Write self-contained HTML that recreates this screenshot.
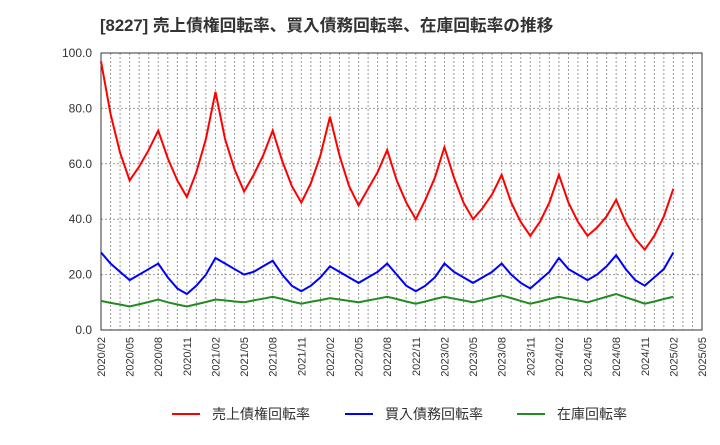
<!DOCTYPE html>
<html><head><meta charset="utf-8"><style>
body{margin:0;background:#fff;font-family:"Liberation Sans","Noto Sans CJK JP",sans-serif}
</style></head><body>
<svg id="c" width="720" height="440" xmlns="http://www.w3.org/2000/svg">
<text x="100" y="31" font-size="16.7" font-weight="bold" fill="#333">[8227]  売上債権回転率、買入債務回転率、在庫回転率の推移</text>
<g id="grid"></g><g id="axes"></g><g id="series"></g>
<g>
<line x1="172" y1="414" x2="200" y2="414" stroke="#f00" stroke-width="2"/><text x="212" y="419" font-size="14" fill="#333">売上債権回転率</text>
<line x1="345" y1="414" x2="373" y2="414" stroke="#00f" stroke-width="2"/><text x="385" y="419" font-size="14" fill="#333">買入債務回転率</text>
<line x1="517" y1="414" x2="545" y2="414" stroke="#228b22" stroke-width="2"/><text x="557" y="419" font-size="14" fill="#333">在庫回転率</text>
</g>
</svg>
<script>
const yTicks=[0,20,40,60,80,100];
const xTickLabels=["2020/02","2020/05","2020/08","2020/11","2021/02","2021/05","2021/08","2021/11","2022/02","2022/05","2022/08","2022/11","2023/02","2023/05","2023/08","2023/11","2024/02","2024/05","2024/08","2024/11","2025/02","2025/05"];
const receivables=[97,78,64,54,59,65,72,62,54,48,57,69,86,69,58,50,56,63,72,61,52,46,53,63,77,63,52,45,51,57,65,54,46,40,47,55,66,55,46,40,44,49,56,46,39,34,39,46,56,46,39,34,37,41,47,39,33,29,34,41,51];
const payables=[28,24,21,18,20,22,24,19,15,13,16,20,26,24,22,20,21,23,25,20,16,14,16,19,23,21,19,17,19,21,24,20,16,14,16,19,24,21,19,17,19,21,24,20,17,15,18,21,26,22,20,18,20,23,27,22,18,16,19,22,28];
const inventory=[10.5,9.8,9.2,8.5,9.3,10.1,11,10,9.2,8.5,9.3,10.1,11,10.7,10.3,10,10.7,11.3,12,11.2,10.3,9.5,10.2,10.8,11.5,11,10.5,10,10.7,11.3,12,11.2,10.3,9.5,10.3,11.2,12,11.3,10.7,10,10.8,11.7,12.5,11.5,10.5,9.5,10.3,11.2,12,11.3,10.7,10,11,12,13,11.8,10.7,9.5,10.3,11.2,12];
const L=101,R=702,T=53,B=330,N=63;
const X=i=>L+(R-L)*i/N, Y=v=>B-(B-T)*v/100;
const ns="http://www.w3.org/2000/svg";
function mk(p,t,a){const e=document.createElementNS(ns,t);for(const k in a)e.setAttribute(k,a[k]);document.getElementById(p).appendChild(e);return e;}
for(let i=1;i<N;i++){const e=mk('grid','line',{x1:X(i),x2:X(i),y1:T,y2:B,stroke:'#999','stroke-dasharray':'2,2','stroke-width':1});

}
yTicks.forEach(v=>{if(v>0&&v<100){const g=mk('grid','line',{x1:L,x2:R,y1:Y(v),y2:Y(v),stroke:'#999','stroke-dasharray':'2,2'});

}
const t=mk('axes','text',{x:92,y:Y(v)+4,'text-anchor':'end','font-size':12,fill:'#333'});t.textContent=v.toFixed(1);

});
xTickLabels.forEach((s,k)=>{const x=X(k*3);const t=mk('axes','text',{x:0,y:0,transform:`translate(${x+4},337) rotate(-90)`,'text-anchor':'end','font-size':11,fill:'#333'});t.textContent=s;

});
const fr=mk('axes','rect',{x:L,y:T,width:R-L,height:B-T,fill:'none',stroke:'#333','stroke-width':1});


[[receivables,'#f00','receivables-line'],[payables,'#00f','payables-line'],[inventory,'#228b22','inventory-line']].forEach(([d,c,n])=>{
const p=mk('series','polyline',{points:d.map((v,i)=>X(i)+','+Y(v)).join(' '),fill:'none',stroke:c,'stroke-width':2});

});
</script>
</body></html>
